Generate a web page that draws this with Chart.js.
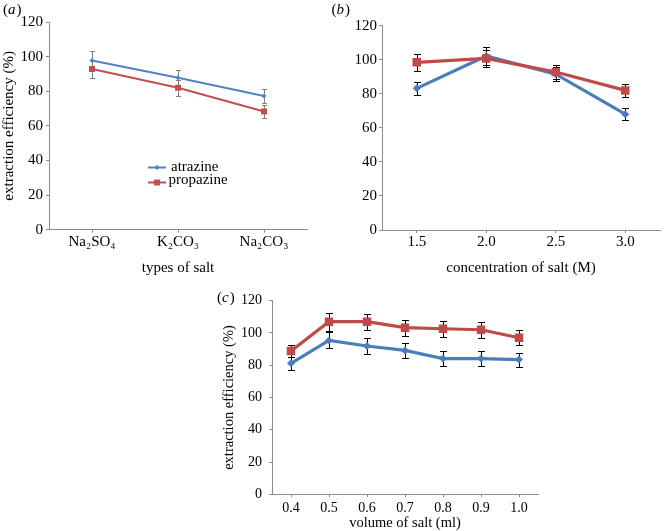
<!DOCTYPE html>
<html><head><meta charset="utf-8">
<script src="https://cdn.jsdelivr.net/npm/chart.js@4/dist/chart.umd.min.js"></script>
<style>
html,body{margin:0;padding:0;background:#fff;width:666px;height:531px;overflow:hidden;position:relative;}
canvas{position:absolute;}
#ca{left:0;top:0}
#cb{left:330px;top:0}
#cc{left:200px;top:270px}
</style></head><body>
<canvas id="ca" width="330" height="277"></canvas>
<canvas id="cb" width="336" height="277"></canvas>
<canvas id="cc" width="350" height="262"></canvas>
<script>
// ---------- data ----------
const yTicks = [0, 20, 40, 60, 80, 100, 120];

const saltTypes = ['Na\u2082SO\u2084', 'K\u2082CO\u2083', 'Na\u2082CO\u2083'];
const atrazineA = [97.8, 87.8, 77.2];
const atrazineAErr = [5.2, 4.4, 4.2];
const propazineA = [92.8, 82.0, 68.3];
const propazineAErr = [5.0, 4.6, 3.6];

const concentrations = ['1.5', '2.0', '2.5', '3.0'];
const atrazineB = [83.2, 102.2, 91.5, 68.0];
const atrazineBErr = [4.0, 5.0, 4.0, 3.5];
const propazineB = [98.5, 100.8, 92.8, 82.0];
const propazineBErr = [5.0, 5.0, 4.0, 4.0];

const volumes = ['0.4', '0.5', '0.6', '0.7', '0.8', '0.9', '1.0'];
const atrazineC = [81.2, 95.4, 91.9, 89.2, 84.1, 84.1, 83.5];
const atrazineCErr = [4.0, 5.0, 4.7, 4.5, 4.5, 4.5, 4.3];
const propazineC = [88.8, 107.0, 107.0, 103.3, 102.6, 102.0, 97.0];
const propazineCErr = [4.0, 5.6, 5.0, 5.0, 5.0, 5.0, 4.7];

// ---------- styling ----------
const FONT = '"Liberation Serif","Times New Roman",serif';
const AXIS = '#8c8c8c';

const errorBars = {
  id: 'errorBars',
  beforeDatasetsDraw(chart, args, opts) {
    const ctx = chart.ctx, ys = chart.scales.y;
    chart.data.datasets.forEach((ds, di) => {
      if (!ds.errors) return;
      const meta = chart.getDatasetMeta(di);
      ctx.save();
      ctx.strokeStyle = opts.color;
      ctx.lineWidth = 1;
      meta.data.forEach((pt, i) => {
        const v = ds.data[i], e = ds.errors[i];
        const x = Math.round(pt.x) + 0.5;
        const yt = Math.round(ys.getPixelForValue(v + e)) + 0.5;
        const yb = Math.round(ys.getPixelForValue(v - e)) + 0.5;
        ctx.beginPath();
        ctx.moveTo(x, yt); ctx.lineTo(x, yb);
        ctx.moveTo(x - opts.cap, yt); ctx.lineTo(x + opts.cap, yt);
        ctx.moveTo(x - opts.cap, yb); ctx.lineTo(x + opts.cap, yb);
        ctx.stroke();
      });
      ctx.restore();
    });
  }
};

function marker(ctx, style, r, x, y, color) {
  ctx.fillStyle = color;
  ctx.beginPath();
  if (style === 'rect') {
    const s = r * Math.SQRT1_2;
    ctx.rect(x - s, y - s, 2 * s, 2 * s);
  } else {
    ctx.moveTo(x, y - r); ctx.lineTo(x + r, y); ctx.lineTo(x, y + r); ctx.lineTo(x - r, y); ctx.closePath();
  }
  ctx.fill();
}

const inlineLegend = {
  id: 'inlineLegend',
  afterDraw(chart, args, opts) {
    if (!opts.items) return;
    const ctx = chart.ctx;
    opts.items.forEach(it => {
      const ds = chart.data.datasets[it.index];
      ctx.save();
      ctx.strokeStyle = ds.borderColor;
      ctx.lineWidth = ds.borderWidth;
      ctx.beginPath(); ctx.moveTo(it.x1, it.y); ctx.lineTo(it.x2, it.y); ctx.stroke();
      marker(ctx, ds.pointStyle, ds.pointRadius, (it.x1 + it.x2) / 2, it.y, ds.borderColor);
      ctx.fillStyle = '#000';
      ctx.font = opts.size + 'px ' + FONT;
      ctx.textBaseline = 'alphabetic';
      ctx.fillText(ds.label, it.tx, it.ty);
      ctx.restore();
    });
  }
};

const panelLabel = {
  id: 'panelLabel',
  afterDraw(chart, args, opts) {
    if (!opts.text) return;
    const ctx = chart.ctx;
    ctx.save();
    ctx.fillStyle = '#000';
    ctx.textBaseline = 'alphabetic';
    let x = opts.x;
    ctx.font = opts.size + 'px ' + FONT;
    ctx.fillText('(', x, opts.y); x += ctx.measureText('(').width;
    ctx.font = 'italic ' + opts.size + 'px ' + FONT;
    ctx.fillText(opts.text, x, opts.y); x += ctx.measureText(opts.text).width + 1;
    ctx.font = opts.size + 'px ' + FONT;
    ctx.fillText(')', x, opts.y);
    ctx.restore();
  }
};

function makeDatasets(a, aErr, p, pErr, thin) {
  return [
    {
      label: 'atrazine', data: a, errors: aErr, order: 1,
      borderColor: thin ? '#5083c0' : '#4a7ebb', backgroundColor: thin ? '#5083c0' : '#4a7ebb',
      borderWidth: thin ? 2 : 3.2, pointStyle: 'rectRot', pointRadius: thin ? 2.5 : 4,
      pointBorderWidth: 0, tension: 0
    },
    {
      label: 'propazine', data: p, errors: pErr, order: 0,
      borderColor: thin ? '#c0504d' : '#be4b48', backgroundColor: thin ? '#c0504d' : '#be4b48',
      borderWidth: thin ? 2 : 3.2, pointStyle: 'rect', pointRadius: thin ? 4.2 : 6,
      pointBorderWidth: 0, tension: 0
    }
  ];
}

function buildOptions(cfg) {
  return {
    responsive: false, animation: false, devicePixelRatio: 1,
    layout: { padding: cfg.padding },
    plugins: {
      legend: { display: false }, tooltip: { enabled: false },
      errorBars: cfg.err,
      inlineLegend: cfg.legend || {},
      panelLabel: cfg.label
    },
    scales: {
      x: {
        type: 'category', offset: true,
        grid: { drawOnChartArea: false, drawTicks: true, tickLength: 3, color: AXIS, offset: false },
        border: { color: AXIS, width: 1 },
        ticks: { font: { family: FONT, size: cfg.tickSize }, color: '#000', padding: cfg.xPad, maxRotation: 0, autoSkip: false },
        title: { display: true, text: cfg.xTitle, font: { family: FONT, size: cfg.titleSize }, color: '#000', padding: { top: 0, bottom: 0 } },
        afterFit: s => { s.height = cfg.xHeight; }
      },
      y: {
        min: 0, max: 120,
        afterBuildTicks: s => { s.ticks = yTicks.map(v => ({ value: v })); },
        grid: { drawOnChartArea: false, drawTicks: true, tickLength: 3, color: AXIS },
        border: { color: AXIS, width: 1 },
        ticks: { font: { family: FONT, size: cfg.tickSize }, color: '#000', padding: cfg.yPad },
        title: cfg.yTitle ? { display: true, text: cfg.yTitle, font: { family: FONT, size: cfg.titleSize }, color: '#000', padding: { top: cfg.yTitlePad, bottom: 0 } } : { display: false },
        afterFit: s => { s.width = cfg.yWidth; }
      }
    }
  };
}

new Chart(document.getElementById('ca'), {
  type: 'line',
  data: { labels: saltTypes, datasets: makeDatasets(atrazineA, atrazineAErr, propazineA, propazineAErr, true) },
  options: buildOptions({
    padding: { left: 0, top: 22, right: 23, bottom: 0 },
    err: { color: '#808080', cap: 2.5 },
    legend: { size: 15, items: [
      { index: 0, x1: 148, x2: 166, y: 167.5, tx: 171, ty: 170.5 },
      { index: 1, x1: 148, x2: 166, y: 182.5, tx: 168.5, ty: 184 }
    ] },
    label: { text: 'a', x: 3, y: 14, size: 15 },
    tickSize: 15, titleSize: 15, xPad: 0, yPad: 3,
    xTitle: 'types of salt', yTitle: 'extraction efficiency (%)', yTitlePad: 0,
    xHeight: 47.3, yWidth: 49
  }),
  plugins: [errorBars, inlineLegend, panelLabel]
});

new Chart(document.getElementById('cb'), {
  type: 'line',
  data: { labels: concentrations, datasets: makeDatasets(atrazineB, atrazineBErr, propazineB, propazineBErr, false) },
  options: buildOptions({
    padding: { left: 0, top: 25.7, right: 1, bottom: 0 },
    err: { color: '#000', cap: 3.5 },
    label: { text: 'b', x: 1.5, y: 13.5, size: 15 },
    tickSize: 15, titleSize: 15, xPad: 0, yPad: 2,
    xTitle: 'concentration of salt (M)', yTitle: null,
    xHeight: 47, yWidth: 52
  }),
  plugins: [errorBars, inlineLegend, panelLabel]
});

new Chart(document.getElementById('cc'), {
  type: 'line',
  data: { labels: volumes, datasets: makeDatasets(atrazineC, atrazineCErr, propazineC, propazineCErr, false) },
  options: buildOptions({
    padding: { left: 0, top: 30.7, right: 12, bottom: 0 },
    err: { color: '#000', cap: 3.5 },
    label: { text: 'c', x: 17, y: 32, size: 15 },
    tickSize: 14, titleSize: 14.5, xPad: 3, yPad: 7,
    xTitle: 'volume of salt (ml)', yTitle: 'extraction efficiency (%)', yTitlePad: 20,
    xHeight: 37.7, yWidth: 72
  }),
  plugins: [errorBars, inlineLegend, panelLabel]
});
</script>
</body></html>
